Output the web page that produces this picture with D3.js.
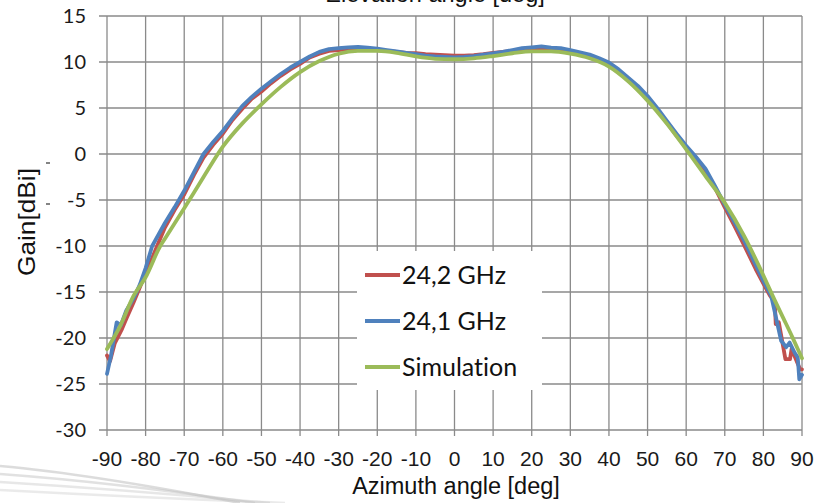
<!DOCTYPE html>
<html lang="en">
<head>
    <meta charset="UTF-8">
    <title>Gain vs azimuth</title>
    <script src="https://d3js.org/d3.v7.min.js"></script>
    <style>
        body { margin: 0; background: #fff; }
        svg { display: block; }
        text { font-variant-ligatures: none; }
    </style>
</head>
<body>
    <svg width="821" height="503"></svg>

    <script>
        // Tick values
        const xTicks = d3.range(-90, 91, 10);
        const yTicks = d3.range(-30, 16, 5);

        // Series: [azimuth deg, gain dBi]
        const meas242 = [
            [-90,-21.9],[-89.2,-22.5],[-88,-20.6],[-86.1,-19.0],[-85,-17.9],[-83.1,-16.1],[-80.6,-13.6],
            [-77.5,-10.5],[-75,-8.0],[-72.5,-6.1],[-70,-4.4],[-67.5,-2.3],[-65,-0.4],[-62.5,1.0],[-60,2.2],
            [-57.5,3.7],[-55,4.9],[-52.5,6.0],[-50,6.8],[-47.5,7.7],[-45,8.5],[-42.5,9.2],[-40,9.8],
            [-37.5,10.5],[-35,10.9],[-32.5,11.2],[-30,11.3],[-27.5,11.4],[-25,11.4],[-22.5,11.35],[-20,11.3],
            [-17.5,11.2],[-15,11.1],[-12.5,11.0],[-10,10.95],[-7.5,10.85],[-5,10.8],[-2.5,10.75],[0,10.7],
            [2.5,10.7],[5,10.75],[7.5,10.85],[10,11.0],[12.5,11.1],[15,11.2],[17.5,11.3],[20,11.4],
            [22.5,11.45],[25,11.4],[27.5,11.3],[30,11.1],[32.5,10.9],[35,10.6],[37.5,10.3],[40,9.8],
            [42.5,9.0],[45,8.1],[47.5,7.2],[50,6.1],[52.5,4.8],[55,3.4],[57.5,2.0],[60,0.7],[62.5,-0.4],
            [65,-1.8],[67.5,-3.7],[70,-5.8],[72.5,-7.8],[75,-9.9],[78,-12.5],[80,-14.1],[81.7,-15.4],
            [82.6,-15.9],[83.0,-16.5],[83.2,-18.5],[84,-18.3],[85.7,-22.3],[86.9,-22.3],[87.3,-21.2],
            [89.5,-23.4],[90,-23.4]
        ];
        const meas241 = [
            [-90,-23.9],[-89,-22.0],[-87.5,-18.3],[-86.4,-18.6],[-85,-17.0],[-83,-15.6],[-81.5,-14.2],
            [-80,-12.4],[-78.3,-10.0],[-77.5,-9.4],[-75,-7.5],[-72.5,-5.8],[-70,-4.0],[-67.5,-2.0],[-65,0],
            [-62.5,1.3],[-60,2.5],[-57.5,3.9],[-55,5.2],[-52.5,6.2],[-50,7.1],[-47.5,7.9],[-45,8.7],
            [-42.5,9.4],[-40,10.0],[-37.5,10.6],[-35,11.1],[-32.5,11.4],[-30,11.5],[-27.5,11.6],[-25,11.65],
            [-22.5,11.55],[-20,11.45],[-17.5,11.3],[-15,11.15],[-12.5,11.0],[-10,10.85],[-7.5,10.7],[-5,10.6],
            [-2.5,10.55],[0,10.5],[2.5,10.55],[5,10.65],[7.5,10.8],[10,10.95],[12.5,11.1],[15,11.3],
            [17.5,11.5],[20,11.6],[22.5,11.7],[25,11.55],[27.5,11.5],[30,11.3],[32.5,11.05],[35,10.8],
            [37.5,10.4],[40,9.95],[42.5,9.2],[45,8.3],[47.5,7.4],[50,6.3],[52.5,5.0],[55,3.6],[57.5,2.2],
            [60,0.9],[62.5,-0.3],[65,-1.6],[67.5,-3.5],[70,-5.5],[72.5,-7.4],[75,-9.4],[77.5,-11.6],
            [80,-13.8],[82,-15.4],[84.6,-20.3],[85.9,-21.0],[86.8,-20.5],[88.1,-21.6],[88.9,-22.1],
            [89.3,-24.5],[90,-24.0]
        ];
        const simulation = [
            [-90,-21.2],[-86.6,-18.7],[-83.1,-15.4],[-80,-13.4],[-76.2,-10.0],[-75,-9.2],[-70,-5.9],
            [-65,-2.5],[-60,0.8],[-55,3.3],[-50,5.4],[-45,7.3],[-40,8.9],[-35,10.1],[-30,10.9],
            [-25,11.2],[-20,11.2],[-15,11.0],[-10,10.6],[-5,10.35],[0,10.3],[5,10.4],[10,10.65],[15,10.95],
            [20,11.15],[25,11.15],[30,10.9],[35,10.4],[40,9.5],[45,7.9],[50,5.8],[55,3.3],[60,0.5],
            [65,-2.4],[70,-5.3],[75,-8.9],[80,-13.2],[82.5,-15.5],[85,-17.7],[87.5,-19.9],[90,-22.2]
        ];

        const seriesNames = ["24,2 GHz", "24,1 GHz", "Simulation"];
        const seriesColors = ["#c0504d", "#4f81bd", "#9bbb59"];
        const seriesData = [meas242, meas241, simulation];

        const svg = d3.select("svg");
        const gridColor = "#8a8a8a";

        const x = d3.scaleLinear().domain([-90, 90]).range([107, 802]);
        const y = d3.scaleLinear().domain([-30, 15]).range([430, 16]);

        // faint swooshes from the slide background, bottom left
        const swoosh = svg.append("g").attr("fill", "none");
        [[466, 0.6], [474, 0.5], [482, 0.4], [490, 0.35]].forEach(([y0, op], i) => {
            swoosh.append("path")
                .attr("d", `M0,${y0} Q${90 + i * 20},${y0 + 8} ${240 + i * 15},503`)
                .attr("stroke", "#c4c4c4")
                .attr("stroke-width", 2.4)
                .attr("stroke-opacity", op);
        });

        // Grid
        const grid = svg.append("g").attr("stroke", gridColor).attr("stroke-width", 1.3);
        grid.selectAll("line.v")
            .data(xTicks)
            .enter().append("line")
            .attr("x1", d => x(d)).attr("x2", d => x(d))
            .attr("y1", y(15)).attr("y2", y(-30) + 6);
        grid.selectAll("line.h")
            .data(yTicks)
            .enter().append("line")
            .attr("x1", x(-90) - 8).attr("x2", x(90))
            .attr("y1", d => y(d)).attr("y2", d => y(d));

        // Tick labels
        svg.append("g")
            .selectAll("text")
            .data(yTicks)
            .enter().append("text")
            .attr("x", 86)
            .attr("y", d => y(d))
            .attr("dy", "0.36em")
            .attr("text-anchor", "end")
            .attr("font-family", "Lato, 'Open Sans', sans-serif")
            .attr("font-size", 20)
            .attr("fill", "#1a1a1a")
            .text(d => d);

        svg.append("g")
            .selectAll("text")
            .data(xTicks)
            .enter().append("text")
            .attr("x", d => x(d))
            .attr("y", 466)
            .attr("text-anchor", "middle")
            .attr("font-family", "'Liberation Sans', Arial, sans-serif")
            .attr("font-size", 21)
            .attr("fill", "#1a1a1a")
            .text(d => d);

        // Lines
        const line = d3.line()
            .x(d => x(d[0]))
            .y(d => y(d[1]));

        seriesData.forEach((data, i) => {
            svg.append("path")
                .datum(data)
                .attr("fill", "none")
                .attr("stroke", seriesColors[i])
                .attr("stroke-width", 3.8)
                .attr("stroke-linejoin", "round")
                .attr("stroke-linecap", "round")
                .attr("d", line.curve(i === 2 ? d3.curveMonotoneX : d3.curveLinear));
        });

        // Legend
        const legend = svg.append("g");
        legend.append("rect")
            .attr("x", 357).attr("y", 251)
            .attr("width", 185).attr("height", 139)
            .attr("fill", "#fff");
        seriesNames.forEach((name, i) => {
            const ly = 275 + i * 46;
            legend.append("line")
                .attr("x1", 365).attr("x2", 400)
                .attr("y1", ly).attr("y2", ly)
                .attr("stroke", seriesColors[i])
                .attr("stroke-width", 3.8);
            legend.append("text")
                .attr("x", 402)
                .attr("y", ly)
                .attr("dy", "0.35em")
                .attr("font-family", "Lato, 'Open Sans', sans-serif")
                .attr("font-size", 25)
                .attr("fill", "#111")
                .text(name);
        });

        // Axis titles (the top one is cut by the edge, as in the source)
        svg.append("text")
            .attr("x", 435).attr("y", 2)
            .attr("text-anchor", "middle")
            .attr("font-family", "'Liberation Sans', Arial, sans-serif")
            .attr("font-size", 23.5)
            .attr("fill", "#111")
            .text("Elevation angle [deg]");

        svg.append("text")
            .attr("x", 456).attr("y", 494)
            .attr("text-anchor", "middle")
            .attr("font-family", "'Liberation Sans', Arial, sans-serif")
            .attr("font-size", 23.5)
            .attr("fill", "#111")
            .text("Azimuth angle [deg]");

        svg.append("text")
            .attr("transform", "translate(35,222) rotate(-90)")
            .attr("text-anchor", "middle")
            .attr("font-family", "'Liberation Sans', Arial, sans-serif")
            .attr("font-size", 24)
            .attr("textLength", 108)
            .attr("lengthAdjust", "spacingAndGlyphs")
            .attr("fill", "#111")
            .text("Gain[dBi]");

        // two small stray dashes beside the y title
        svg.append("g").attr("stroke", "#333").attr("stroke-width", 1.2)
            .selectAll("line")
            .data([163, 204])
            .enter().append("line")
            .attr("x1", 46).attr("x2", 50)
            .attr("y1", d => d).attr("y2", d => d);
    </script>
</body>
</html>
